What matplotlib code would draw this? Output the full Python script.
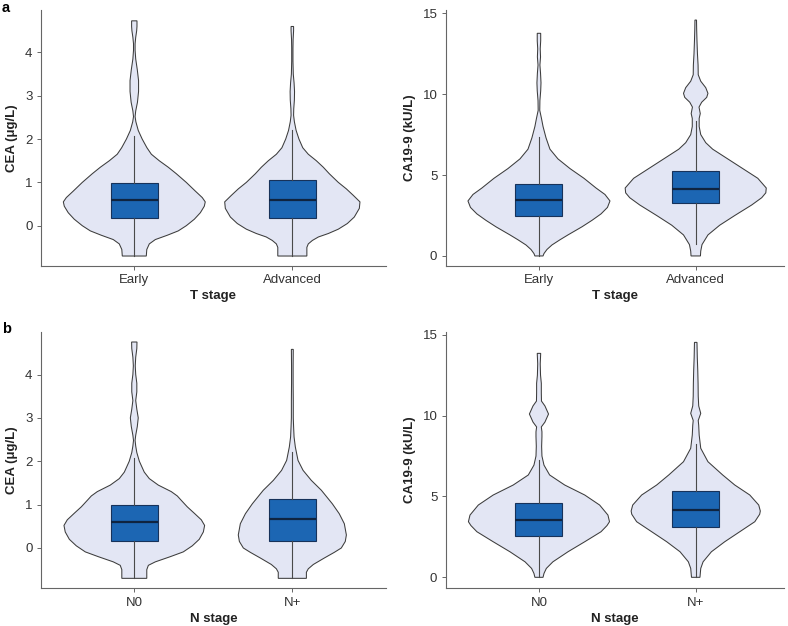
import matplotlib

matplotlib.use("Agg")
import matplotlib.pyplot as plt
import numpy as np

plt.rcParams["font.family"] = ["Liberation Sans", "DejaVu Sans"]

# --- CEA by T stage: violin profiles (value, half-width in category units) ---
cea_t_early_y = [-0.70, -0.55, -0.42, -0.32, -0.22, -0.12, 0.0, 0.15, 0.30, 0.45, 0.55, 0.65, 0.80,
                 1.0, 1.2, 1.35, 1.5, 1.65, 1.8, 2.0, 2.2, 2.4, 2.52, 2.65, 2.85, 3.1, 3.35, 3.6,
                 3.85, 4.05, 4.2, 4.35, 4.5, 4.6, 4.73]
cea_t_early_w = [0.076, 0.079, 0.095, 0.133, 0.209, 0.278, 0.329, 0.380, 0.418, 0.443, 0.449, 0.430,
                 0.386, 0.329, 0.266, 0.215, 0.158, 0.108, 0.080, 0.050, 0.025, 0.010, 0.005, 0.009,
                 0.020, 0.027, 0.027, 0.019, 0.009, 0.005, 0.005, 0.009, 0.015, 0.017, 0.017]
cea_t_adv_y = [-0.70, -0.50, -0.42, -0.34, -0.26, -0.18, -0.08, 0.05, 0.2, 0.4, 0.55, 0.7, 0.85, 1.0,
               1.2, 1.35, 1.5, 1.65, 1.8, 2.0, 2.2, 2.4, 2.55, 2.7, 2.9, 3.1, 3.3, 3.5, 3.8, 4.1,
               4.3, 4.5, 4.6]
cea_t_adv_w = [0.092, 0.092, 0.101, 0.127, 0.165, 0.228, 0.291, 0.348, 0.392, 0.424, 0.428, 0.386,
               0.342, 0.291, 0.234, 0.196, 0.152, 0.101, 0.066, 0.042, 0.024, 0.013, 0.008, 0.009,
               0.013, 0.014, 0.011, 0.006, 0.004, 0.004, 0.005, 0.008, 0.008]

# --- CEA by N stage ---
cea_n_n0_y = [-0.70, -0.50, -0.40, -0.32, -0.2, -0.09, 0.05, 0.2, 0.37, 0.52, 0.65, 0.8, 0.95, 1.1,
              1.2, 1.3, 1.45, 1.6, 1.75, 2.0, 2.2, 2.35, 2.48, 2.6, 2.8, 3.0, 3.2, 3.4, 3.6, 3.8,
              4.0, 4.2, 4.4, 4.6, 4.75]
cea_n_n0_w = [0.079, 0.079, 0.089, 0.133, 0.228, 0.310, 0.367, 0.411, 0.437, 0.445, 0.424, 0.380,
              0.335, 0.297, 0.272, 0.234, 0.152, 0.095, 0.063, 0.032, 0.016, 0.009, 0.005, 0.009,
              0.019, 0.025, 0.016, 0.009, 0.016, 0.016, 0.009, 0.006, 0.009, 0.016, 0.017]
cea_n_pos_y = [-0.70, -0.56, -0.48, -0.38, -0.23, -0.1, 0.0, 0.15, 0.3, 0.56, 0.79, 1.02, 1.33, 1.56,
               1.79, 2.02, 2.33, 2.56, 2.8, 3.0, 3.4, 3.8, 4.2, 4.58]
cea_n_pos_w = [0.089, 0.089, 0.101, 0.133, 0.203, 0.266, 0.310, 0.335, 0.342, 0.329, 0.297, 0.253,
               0.184, 0.120, 0.068, 0.036, 0.019, 0.011, 0.008, 0.006, 0.006, 0.005, 0.005, 0.006]

# --- CA19-9 by T stage ---
ca_t_early_y = [0.0, 0.15, 0.4, 0.68, 1.0, 1.3, 1.8, 2.2, 2.6, 3.0, 3.4, 3.8, 4.2, 4.8, 5.4, 6.0, 6.6,
                7.3, 8.0, 8.5, 9.0, 9.6, 10.2, 10.7, 11.3, 11.8, 12.3, 12.8, 13.3, 13.76]
ca_t_early_w = [0.026, 0.032, 0.051, 0.083, 0.134, 0.185, 0.274, 0.338, 0.396, 0.437, 0.453, 0.421,
                0.364, 0.287, 0.198, 0.121, 0.070, 0.045, 0.026, 0.016, 0.005, 0.006, 0.011, 0.013,
                0.010, 0.006, 0.010, 0.008, 0.011, 0.011]
ca_t_adv_y = [0.0, 0.3, 0.7, 1.3, 1.9, 2.5, 3.15, 3.6, 3.9, 4.2, 4.8, 5.4, 6.0, 6.6, 7.0, 7.5, 8.0, 8.5,
              8.8, 9.2, 9.5, 9.8, 10.05, 10.4, 10.8, 11.2, 11.8, 12.5, 13.3, 14.0, 14.58]
ca_t_adv_w = [0.030, 0.032, 0.040, 0.078, 0.153, 0.249, 0.357, 0.421, 0.447, 0.450, 0.396, 0.300,
              0.204, 0.108, 0.064, 0.032, 0.022, 0.022, 0.029, 0.021, 0.038, 0.070, 0.078, 0.064,
              0.032, 0.016, 0.015, 0.011, 0.008, 0.006, 0.005]

# --- CA19-9 by N stage ---
ca_n_n0_y = [0.0, 0.24, 0.55, 0.96, 1.58, 2.2, 2.82, 3.2, 3.44, 3.85, 4.47, 5.09, 5.71, 6.33, 6.94,
             7.5, 8.1, 8.7, 9.0, 9.3, 9.6, 10.1, 10.6, 10.9, 11.4, 12.0, 12.5, 13.2, 13.85]
ca_n_n0_w = [0.026, 0.032, 0.047, 0.089, 0.185, 0.292, 0.396, 0.434, 0.450, 0.440, 0.387, 0.292,
             0.164, 0.068, 0.032, 0.019, 0.017, 0.019, 0.019, 0.015, 0.038, 0.061, 0.038, 0.016,
             0.015, 0.015, 0.010, 0.008, 0.011]
ca_n_pos_y = [0.0, 0.55, 0.96, 1.58, 2.2, 2.82, 3.44, 3.9, 4.1, 4.47, 5.09, 5.71, 6.33, 7.15, 7.98,
              8.8, 9.4, 9.7, 10.14, 10.6, 11.2, 12.0, 12.8, 13.6, 14.53]
ca_n_pos_w = [0.027, 0.032, 0.047, 0.100, 0.185, 0.281, 0.377, 0.408, 0.412, 0.402, 0.345, 0.249,
              0.172, 0.078, 0.032, 0.022, 0.019, 0.016, 0.032, 0.019, 0.016, 0.015, 0.013, 0.010,
              0.008]

# box statistics: whisker low, q1, median, q3, whisker high
cea_t_box = [[-0.70, 0.17, 0.59, 0.98, 2.07], [-0.70, 0.17, 0.59, 1.06, 2.21]]
cea_n_box = [[-0.70, 0.17, 0.60, 0.99, 2.08], [-0.70, 0.17, 0.66, 1.13, 2.22]]
ca_t_box = [[0.0, 2.49, 3.46, 4.45, 7.33], [0.75, 3.25, 4.11, 5.27, 8.34]]
ca_n_box = [[0.0, 2.58, 3.56, 4.57, 7.27], [0.0, 3.11, 4.19, 5.36, 8.27]]

t_labels = ["Early", "Advanced"]
n_labels = ["N0", "N+"]

VIOLIN_FACE = "#e3e6f4"
VIOLIN_EDGE = "#3c3c3c"
BOX_FACE = "#1c66b3"
BOX_EDGE = "#17325a"
TEXT = "#333333"


def draw_panel(ax, profiles, boxes, labels, xlabel, ylabel, yticks, ylim, xlim):
    positions = [1, 2]
    for pos, (ys, ws) in zip(positions, profiles):
        ys = np.asarray(ys)
        ws = np.asarray(ws)
        xs = np.concatenate([pos + ws, (pos - ws)[::-1]])
        yy = np.concatenate([ys, ys[::-1]])
        ax.fill(xs, yy, facecolor=VIOLIN_FACE, edgecolor=VIOLIN_EDGE, lw=0.75, zorder=1)

    stats = [
        {"whislo": b[0], "q1": b[1], "med": b[2], "q3": b[3], "whishi": b[4], "fliers": []}
        for b in boxes
    ]
    ax.bxp(
        stats,
        positions=positions,
        widths=0.3,
        patch_artist=True,
        showcaps=False,
        showfliers=False,
        boxprops=dict(facecolor=BOX_FACE, edgecolor=BOX_EDGE, lw=0.8),
        medianprops=dict(color="#0f2440", lw=1.6),
        whiskerprops=dict(color="#4a4a4a", lw=0.8),
        zorder=2,
    )

    ax.set_xlim(*xlim)
    ax.set_ylim(*ylim)
    ax.set_xticks(positions)
    ax.set_xticklabels(labels)
    ax.set_yticks(yticks)
    ax.set_xlabel(xlabel, fontsize=9.5, fontweight="bold", color="#222222", labelpad=3)
    ax.set_ylabel(ylabel, fontsize=9.5, fontweight="bold", color="#222222", labelpad=5)
    for side in ("top", "right"):
        ax.spines[side].set_visible(False)
    for side in ("left", "bottom"):
        ax.spines[side].set_color("#666666")
        ax.spines[side].set_linewidth(0.8)
    ax.tick_params(axis="both", direction="out", length=3, width=0.7, color="#666666",
                   labelsize=9.5, labelcolor=TEXT, pad=3)


fig = plt.figure(figsize=(7.88, 6.26), dpi=100)

ax_a1 = fig.add_axes([0.0517, 0.5751, 0.4382, 0.4089])
ax_a2 = fig.add_axes([0.5656, 0.5751, 0.4293, 0.4089])
ax_b1 = fig.add_axes([0.0517, 0.0602, 0.4382, 0.4094])
ax_b2 = fig.add_axes([0.5656, 0.0602, 0.4293, 0.4094])

draw_panel(ax_a1, [(cea_t_early_y, cea_t_early_w), (cea_t_adv_y, cea_t_adv_w)], cea_t_box,
           t_labels, "T stage", "CEA (μg/L)", [0, 1, 2, 3, 4], (-0.93, 4.98), (0.408, 2.593))
draw_panel(ax_a2, [(ca_t_early_y, ca_t_early_w), (ca_t_adv_y, ca_t_adv_w)], ca_t_box,
           t_labels, "T stage", "CA19-9 (kU/L)", [0, 5, 10, 15], (-0.62, 15.2), (0.405, 2.563))
draw_panel(ax_b1, [(cea_n_n0_y, cea_n_n0_w), (cea_n_pos_y, cea_n_pos_w)], cea_n_box,
           n_labels, "N stage", "CEA (μg/L)", [0, 1, 2, 3, 4], (-0.93, 4.98), (0.408, 2.593))
draw_panel(ax_b2, [(ca_n_n0_y, ca_n_n0_w), (ca_n_pos_y, ca_n_pos_w)], ca_n_box,
           n_labels, "N stage", "CA19-9 (kU/L)", [0, 5, 10, 15], (-0.68, 15.17), (0.405, 2.563))

fig.text(0.002, 0.998, "a", fontsize=10.5, fontweight="bold", va="top", ha="left")
fig.text(0.002, 0.485, "b", fontsize=10.5, fontweight="bold", va="top", ha="left")

fig.savefig("out.png", dpi=100)
plt.close(fig)
